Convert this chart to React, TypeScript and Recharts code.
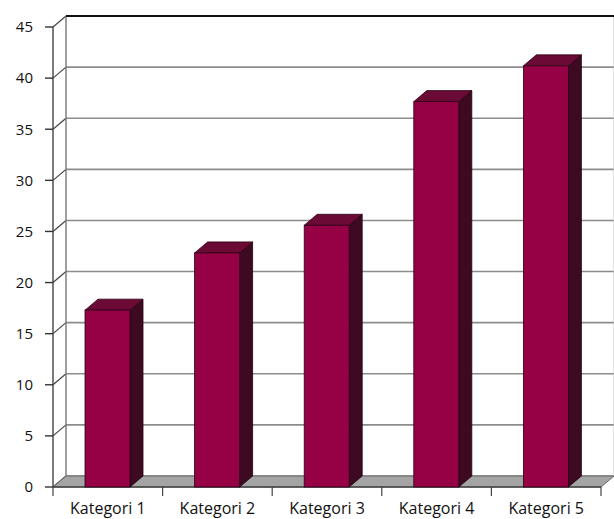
import { BarChart, Bar, XAxis, YAxis, CartesianGrid, ReferenceArea } from 'recharts';

const kategorier = ['Kategori 1', 'Kategori 2', 'Kategori 3', 'Kategori 4', 'Kategori 5'];
const verdier = [17.3, 22.9, 25.6, 37.7, 41.2];
const yTicks = [0, 5, 10, 15, 20, 25, 30, 35, 40, 45];

const data = kategorier.map((navn, i) => ({ navn, verdi: verdier[i] }));

// depth offset of the 3D box (back plane relative to front plane)
const DX = 13;
const DY = -11;

const TICK_SIZE = 8;
const TICK_MARGIN = 8;

const FONT = '"Open Sans", sans-serif';

function Soyle(props: any) {
  const { x, y, width: w, height: h } = props;
  if (!h || h <= 0) return null;
  const top = `${x},${y} ${x + DX},${y + DY} ${x + w + DX},${y + DY} ${x + w},${y}`;
  const side = `${x + w},${y} ${x + w + DX},${y + DY} ${x + w + DX},${y + h + DY} ${x + w},${y + h}`;
  return (
    <g>
      <polygon points={side} fill="#3e0a22" stroke="#1f0010" strokeWidth={0.8} />
      <polygon points={top} fill="#6c0a36" stroke="#2a0014" strokeWidth={0.8} />
      <rect x={x} y={y} width={w} height={h} fill="#960045" stroke="#2a0014" strokeWidth={0.8} />
    </g>
  );
}

function GridLinje(props: any) {
  const { x1, y1, x2 } = props;
  return (
    <g key={props.key}>
      <line x1={x1 + DX} y1={y1 + DY} x2={x2 + DX} y2={y1 + DY} stroke="#8c8c8c" strokeWidth={1.6} />
      <line x1={x1} y1={y1} x2={x1 + DX} y2={y1 + DY} stroke="#444" strokeWidth={1.2} />
    </g>
  );
}

function Vegger(props: any) {
  const { x, y, width: w, height: h } = props;
  const gulv = `${x},${y + h} ${x + DX},${y + h + DY} ${x + w + DX},${y + h + DY} ${x + w},${y + h}`;
  return (
    <g>
      <polygon points={gulv} fill="#a4a4a4" stroke="#666" strokeWidth={1} />
      <line x1={x} y1={y + h} x2={x + w} y2={y + h} stroke="#444" strokeWidth={1.3} />
      <line x1={x + DX} y1={y + DY} x2={x + DX} y2={y + h + DY} stroke="#777" strokeWidth={1.4} />
      <line x1={x + w + DX} y1={y + DY} x2={x + w + DX} y2={y + h + DY} stroke="#c4c4c4" strokeWidth={1} />
      <line x1={x + DX} y1={y + DY} x2={x + w + DX} y2={y + DY} stroke="#111" strokeWidth={2} />
    </g>
  );
}

// category label, with tick marks on the band edges
function KategoriTick(props: any) {
  const { x, y, payload, index } = props;
  const half = payload?.offset ?? 0;
  const top = y - TICK_SIZE - TICK_MARGIN;
  return (
    <g>
      <line x1={x - half} y1={top} x2={x - half} y2={top + 9} stroke="#444" strokeWidth={1.2} />
      {index === kategorier.length - 1 && (
        <line x1={x + half} y1={top} x2={x + half} y2={top + 9} stroke="#444" strokeWidth={1.2} />
      )}
      <text x={x} y={y} dy="0.71em" textAnchor="middle" fontSize={16} fill="#111" fontFamily={FONT}>
        {payload.value}
      </text>
    </g>
  );
}

export default function App() {
  return (
    <div style={{ position: 'absolute', left: 0, top: 0, background: '#fff' }}>
      <BarChart
        width={614}
        height={519}
        data={data}
        margin={{ top: 27, right: 13, left: 0, bottom: 0 }}
      >
        <CartesianGrid vertical={false} horizontal={GridLinje} />
        <ReferenceArea y1={0} y2={45} shape={Vegger} ifOverflow="visible" />
        <XAxis
          dataKey="navn"
          height={32}
          axisLine={false}
          tickLine={false}
          tickSize={TICK_SIZE}
          tickMargin={TICK_MARGIN}
          interval={0}
          tick={KategoriTick}
        />
        <YAxis
          domain={[0, 45]}
          ticks={yTicks}
          width={53}
          tickSize={8}
          tickMargin={12}
          axisLine={{ stroke: '#444', strokeWidth: 1.4 }}
          tickLine={{ stroke: '#333', strokeWidth: 1.4 }}
          tick={{ fontSize: 15, fill: '#111', fontFamily: FONT }}
        />
        <Bar dataKey="verdi" barSize={45} shape={Soyle} isAnimationActive={false} />
      </BarChart>
    </div>
  );
}
